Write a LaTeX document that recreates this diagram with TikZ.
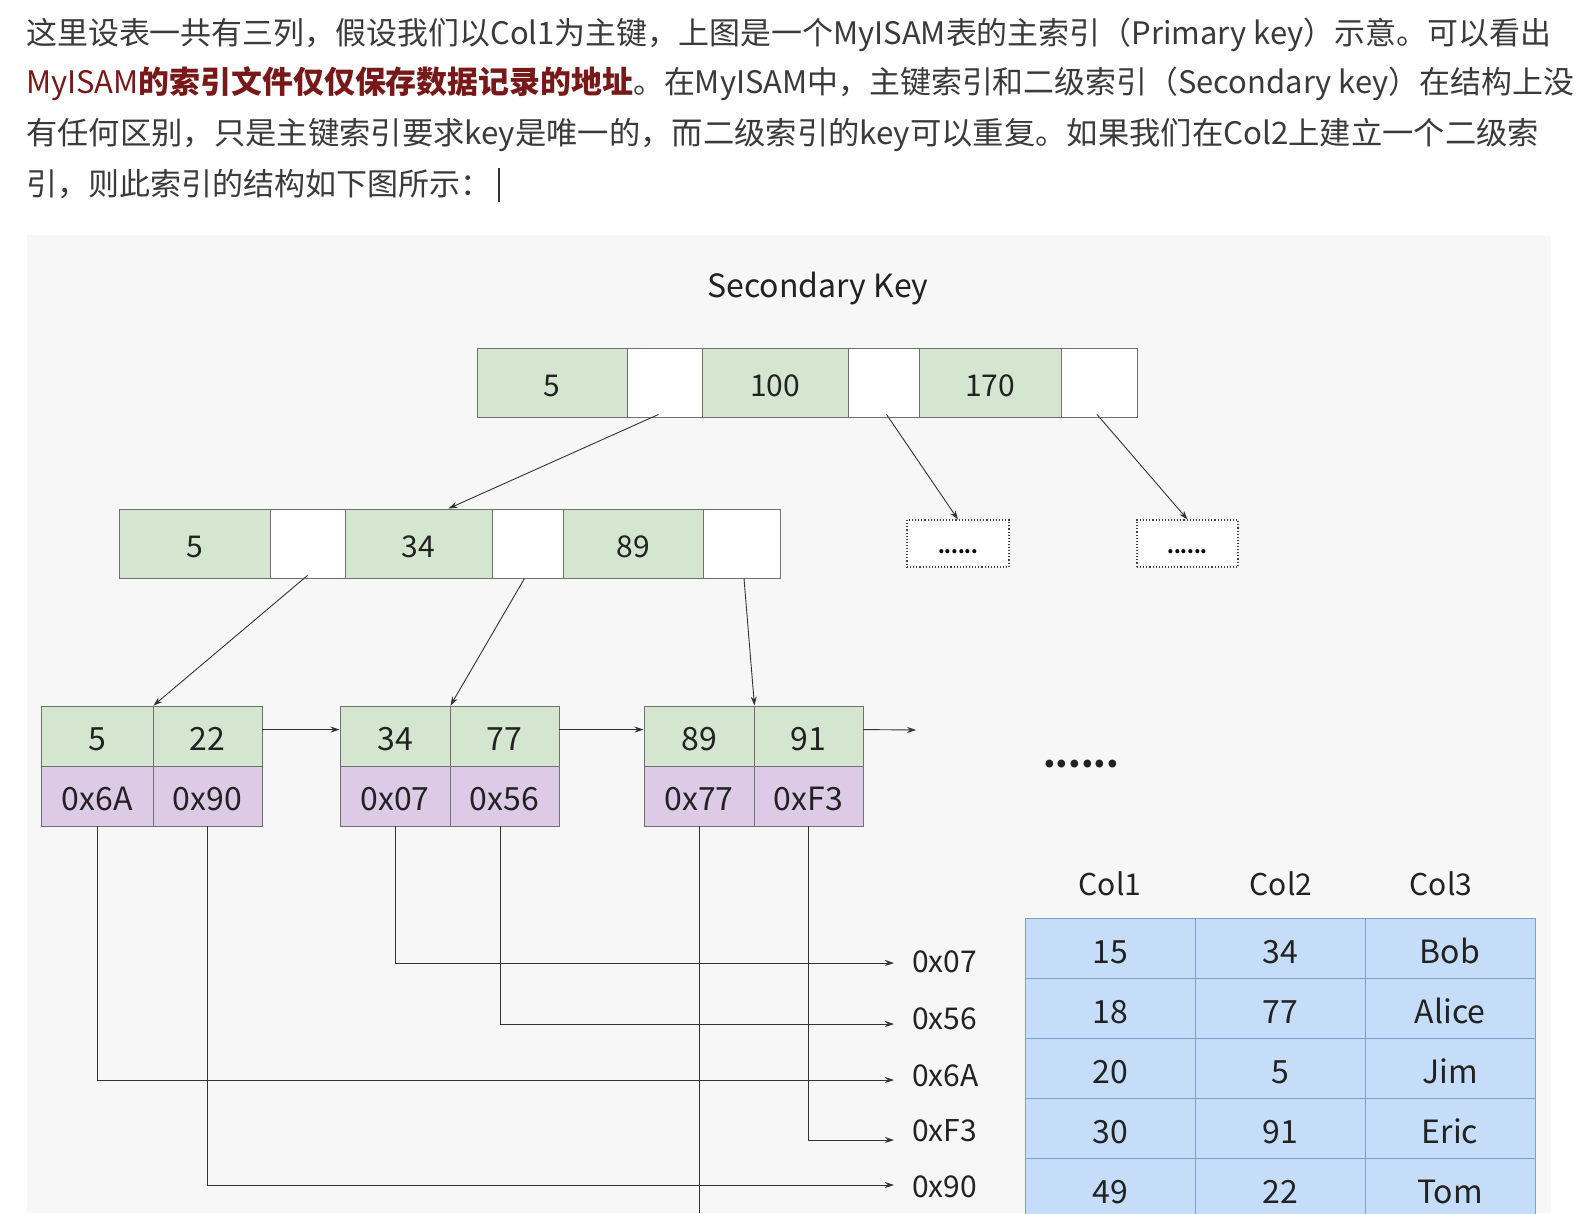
\documentclass[tikz,border=0pt]{standalone}
\usepackage{fontspec}
\setmainfont{Noto Sans CJK SC}
\usepackage{graphicx}
\usetikzlibrary{arrows.meta}
\definecolor{gfill}{HTML}{D4E6D0}
\definecolor{pfill}{HTML}{DCCAE7}
\definecolor{bfill}{HTML}{C6DDFA}
\definecolor{bdraw}{HTML}{7E9FD0}
\definecolor{cdraw}{HTML}{707070}
\definecolor{panel}{HTML}{F7F7F7}
\definecolor{txt}{HTML}{3A3A3A}
\definecolor{dred}{HTML}{781818}
\definecolor{ink}{HTML}{222222}
\tikzset{
  cell/.style={draw=cdraw, line width=0.9pt, inner sep=0pt, text=ink, text height=28pt, text depth=0pt, font=\fontsize{30}{36}\selectfont},
  gc/.style={cell, fill=gfill},
  wc/.style={cell, fill=white},
  lg/.style={cell, fill=gfill, minimum height=60, text height=29pt, font=\fontsize{32}{38}\selectfont},
  lp/.style={cell, fill=pfill, minimum height=60, text height=29pt, font=\fontsize{32}{38}\selectfont},
  dotbox/.style={draw=black!75, dotted, line width=1.1pt, fill=white, inner sep=0pt,
    minimum height=47, text height=20pt, text depth=0pt, font=\fontsize{19}{22}\selectfont\bfseries},
  arr/.style={draw=black!80, line width=0.9pt, -{Stealth[length=9pt,width=6pt]}},
  plain/.style={draw=black!80, line width=0.9pt},
  addr/.style={anchor=west, inner xsep=18pt, inner ysep=0pt, text=ink, font=\fontsize{30}{36}\selectfont},
  tcell/.style={draw=bdraw, line width=0.9pt, fill=bfill, minimum width=170, minimum height=60, inner sep=0pt, text=ink, text height=31pt, text depth=0pt, font=\fontsize{32}{38}\selectfont},
  hd/.style={inner sep=0pt, text=ink, font=\fontsize{30}{36}\selectfont},
  para/.style={anchor=base west, inner sep=0pt, text=txt, font=\fontsize{31}{36}\selectfont}
}
\begin{document}
\begin{tikzpicture}[x=1pt,y=-1pt]
\useasboundingbox (0,0) rectangle (1587,1213);
\fill[white] (0,0) rectangle (1587,1213);
% paragraph
\node[para] (p1) at (26,44) {\resizebox{1525pt}{\height}{这里设表一共有三列，假设我们以Col1为主键，上图是一个MyISAM表的主索引（Primary key）示意。可以看出}};
\node[para] (p2) at (26,93) {\resizebox{1548pt}{\height}{\textcolor{dred}{MyISAM{\bfseries 的索引文件仅仅保存数据记录的地址}}。在MyISAM中，主键索引和二级索引（Secondary key）在结构上没}};
\node[para] (p3) at (26,144) {\resizebox{1513pt}{\height}{有任何区别，只是主键索引要求key是唯一的，而二级索引的key可以重复。如果我们在Col2上建立一个二级索}};
\node[para] (p4) at (26,195) {引，则此索引的结构如下图所示：};
\draw[line width=1.2pt, black!80] (499,168) -- (499,202);
% panel
\fill[panel] (27,235) rectangle (1551,1213);
\node[hd, font=\fontsize{32}{40}\selectfont] (title) at (818,289) {Secondary Key};
% top row
\node[gc, minimum width=150, minimum height=69] (t1) at (552,382.5) {5};
\node[wc, minimum width=75, minimum height=69] (t1p) at (664.5,382.5) {};
\node[gc, minimum width=146, minimum height=69] (t2) at (775,382.5) {100};
\node[wc, minimum width=71, minimum height=69] (t2p) at (883.5,382.5) {};
\node[gc, minimum width=142, minimum height=69] (t3) at (990,382.5) {170};
\node[wc, minimum width=76, minimum height=69] (t3p) at (1099,382.5) {};
% second row
\node[gc, minimum width=151, minimum height=69] (s1) at (194.5,543.5) {5};
\node[wc, minimum width=75, minimum height=69] (s1p) at (307.5,543.5) {};
\node[gc, minimum width=147, minimum height=69] (s2) at (418.5,543.5) {34};
\node[wc, minimum width=71, minimum height=69] (s2p) at (527.5,543.5) {};
\node[gc, minimum width=140, minimum height=69] (s3) at (633,543.5) {89};
\node[wc, minimum width=77, minimum height=69] (s3p) at (741.5,543.5) {};
% dotted boxes
\node[dotbox, minimum width=102] (d1) at (958,543.5) {......};
\node[dotbox, minimum width=101] (d2) at (1187.5,543.5) {......};
% leaves
\node[lg, minimum width=112] (l1a) at (97,736) {5};
\node[lg, minimum width=109] (l1b) at (207.5,736) {22};
\node[lp, minimum width=112] (l1c) at (97,796) {0x6A};
\node[lp, minimum width=109] (l1d) at (207.5,796) {0x90};
\node[lg, minimum width=110] (l2a) at (395,736) {34};
\node[lg, minimum width=109] (l2b) at (504.5,736) {77};
\node[lp, minimum width=110] (l2c) at (395,796) {0x07};
\node[lp, minimum width=109] (l2d) at (504.5,796) {0x56};
\node[lg, minimum width=110] (l3a) at (699,736) {89};
\node[lg, minimum width=109] (l3b) at (808.5,736) {91};
\node[lp, minimum width=110] (l3c) at (699,796) {0x77};
\node[lp, minimum width=109] (l3d) at (808.5,796) {0xF3};
\node[inner sep=0pt, text=ink, font=\fontsize{36}{40}\selectfont\bfseries] (more) at (1081,764) {......};
% tree arrows
\draw[arr] ([xshift=-6,yshift=3]t1p.south) -- ([xshift=30]s2.north);
\draw[arr] ([xshift=3,yshift=3]t2p.south) -- (d1.north);
\draw[arr] ([xshift=-2,yshift=3]t3p.south) -- (d2.north);
\draw[arr] ([yshift=3]s1p.south) -- (l1a.north east);
\draw[arr] ([xshift=-3,yshift=0]s2p.south) -- (l2a.north east);
\draw[arr] ([xshift=2.5,yshift=0]s3p.south) -- (l3a.north east);
% leaf links
\coordinate (lend) at (916,730);
\draw[arr] ([yshift=-24]l1b.north east) -- ([yshift=-24]l2a.north west);
\draw[arr] ([yshift=-24]l2b.north east) -- ([yshift=-24]l3a.north west);
\draw[arr] ([yshift=-24]l3b.north east) -- (lend);
% address labels
\node[addr] (a07) at (894,962) {0x07};
\node[addr] (a56) at (894,1019) {0x56};
\node[addr] (a6A) at (894,1076) {0x6A};
\node[addr] (aF3) at (894,1131) {0xF3};
\node[addr] (a90) at (894,1187) {0x90};
\draw[arr] (l2c.south) |- ([yshift=-1]a07.west);
\draw[arr] ([xshift=-4]l2d.south) |- ([yshift=-5]a56.west);
\draw[arr] (l1c.south) |- ([yshift=-4]a6A.west);
\draw[arr] (l3d.south) |- ([yshift=-9]aF3.west);
\draw[arr] (l1d.south) |- ([yshift=2]a90.west);
\coordinate (e77) at (699,1213);
\draw[plain] (l3c.south) -- (e77);
% table
\node[hd] (h1) at (1110,884) {Col1};
\node[hd] (h2) at (1281,884) {Col2};
\node[hd] (h3) at (1441,884) {Col3};
\foreach \a/\b/\c [count=\i from 0] in {15/34/Bob, 18/77/Alice, 20/5/Jim, 30/91/Eric, 49/22/Tom} {
  \node[tcell] (r\i a) at (1110,948+60*\i) {\a};
  \node[tcell] (r\i b) at (1280,948+60*\i) {\b};
  \node[tcell] (r\i c) at (1450,948+60*\i) {\c};
}
\end{tikzpicture}
\end{document}
